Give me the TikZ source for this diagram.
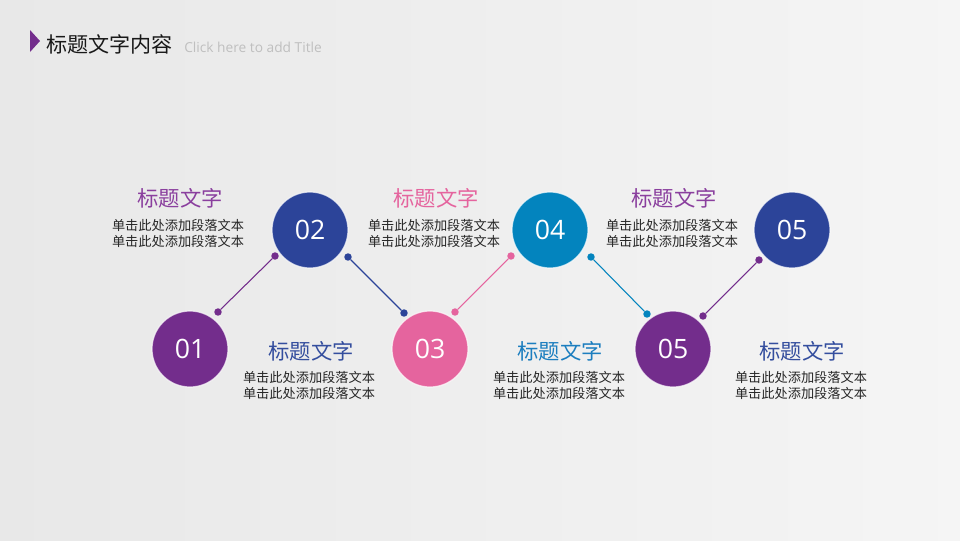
\documentclass[tikz,border=0pt]{standalone}
\usepackage{fontspec}
\setmainfont{Open Sans}
\newfontfamily\cjk{Noto Sans CJK SC}
\newfontfamily\numf{Open Sans}
\definecolor{cPurple}{HTML}{732D8C}
\definecolor{cNavy}{HTML}{2C4499}
\definecolor{cPink}{HTML}{E5649E}
\definecolor{cBlue}{HTML}{0384BE}
\definecolor{tPurple}{HTML}{8A3F9E}
\definecolor{tNavy}{HTML}{344E9E}
\definecolor{tPink}{HTML}{E5649E}
\definecolor{tBlue}{HTML}{1C7EBF}
\begin{document}
\begin{tikzpicture}[x=0.75pt,y=-0.75pt,
  numc/.style={circle,minimum size=57pt,inner sep=0pt,draw=white,draw opacity=0.7,line width=0.9pt,text=white,font=\numf\fontsize{20}{24}\selectfont},
  dotn/.style={circle,minimum size=5.6pt,inner sep=0pt},
  ttl/.style={font=\cjk\fontsize{16}{19}\selectfont,inner sep=0pt},
  body/.style={font=\cjk\fontsize{9.9}{12}\selectfont,align=center,inner sep=0pt,text=black!85},
  link/.style={line width=0.8pt}]
\shade[left color=black!9,right color=black!4] (0,0) rectangle (960,540);
\useasboundingbox (0,0) rectangle (960,540);
% header
\fill[cPurple] (30,30) -- (40,41) -- (30,52) -- cycle;
\node[anchor=west,inner sep=0pt,font=\cjk\fontsize{15.8}{18}\selectfont,text=black!90] (hdr) at (46,44) {标题文字内容};
\node[anchor=west,inner sep=0pt,font=\fontsize{10.3}{12}\selectfont,text=black!25] (sub) at (184,47) {Click here to add Title};
% circles
\node[numc,fill=cPurple] (c1) at (190,349) {01};
\node[numc,fill=cNavy] (c2) at (310,230) {02};
\node[numc,fill=cPink] (c3) at (430,349) {03};
\node[numc,fill=cBlue] (c4) at (550,230) {04};
\node[numc,fill=cPurple] (c5) at (673,349) {05};
\node[numc,fill=cNavy] (c6) at (792,230) {05};
% connector dots
\node[dotn,fill=cPurple] (d1a) at (218,312) {};
\node[dotn,fill=cPurple] (d1b) at (275,256) {};
\node[dotn,fill=cNavy] (d2a) at (348,257) {};
\node[dotn,fill=cNavy] (d2b) at (404,313) {};
\node[dotn,fill=cPink] (d3a) at (455,312) {};
\node[dotn,fill=cPink] (d3b) at (511,256) {};
\node[dotn,fill=cBlue] (d4a) at (591,257) {};
\node[dotn,fill=cBlue] (d4b) at (647,314) {};
\node[dotn,fill=cPurple] (d5a) at (703,316) {};
\node[dotn,fill=cPurple] (d5b) at (759,260) {};
\draw[link,cPurple] (d1a) -- (d1b);
\draw[link,cNavy] (d2a) -- (d2b);
\draw[link,cPink] (d3a) -- (d3b);
\draw[link,cBlue] (d4a) -- (d4b);
\draw[link,cPurple] (d5a) -- (d5b);
% titles and body texts
\node[ttl,text=tPurple] (t1) at (180,198) {标题文字};
\node[body] (b1) at (178,233) {单击此处添加段落文本\\单击此处添加段落文本};
\node[ttl,text=tNavy] (t2) at (311,351) {标题文字};
\node[body] (b2) at (309,385) {单击此处添加段落文本\\单击此处添加段落文本};
\node[ttl,text=tPink] (t3) at (436,198) {标题文字};
\node[body] (b3) at (434,233) {单击此处添加段落文本\\单击此处添加段落文本};
\node[ttl,text=tBlue] (t4) at (560,351) {标题文字};
\node[body] (b4) at (559,385) {单击此处添加段落文本\\单击此处添加段落文本};
\node[ttl,text=tPurple] (t5) at (674,198) {标题文字};
\node[body] (b5) at (672,233) {单击此处添加段落文本\\单击此处添加段落文本};
\node[ttl,text=tNavy] (t6) at (802,351) {标题文字};
\node[body] (b6) at (801,385) {单击此处添加段落文本\\单击此处添加段落文本};
\end{tikzpicture}
\end{document}
